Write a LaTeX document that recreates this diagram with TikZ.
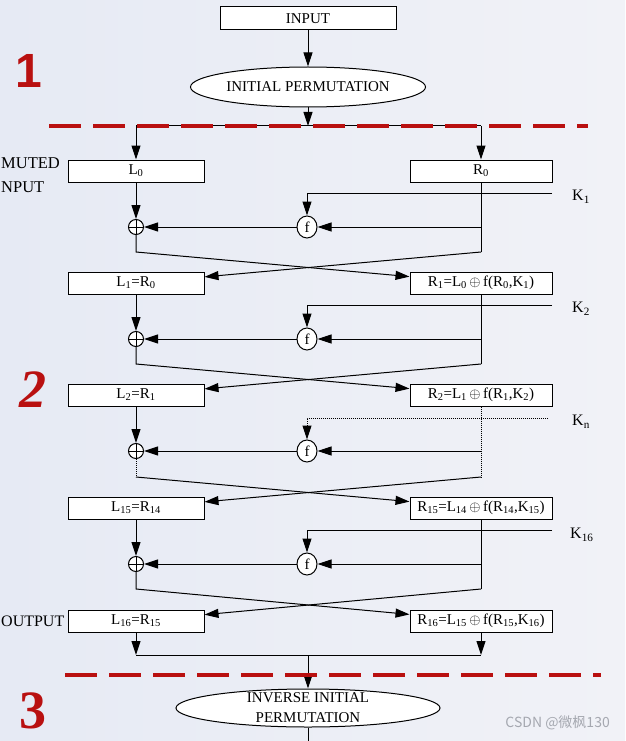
\documentclass[tikz,border=0pt]{standalone}
\usepackage{fontspec}
\setmainfont{Liberation Serif}
\newfontfamily\cjkfont{Noto Sans CJK SC}
\newfontfamily\numfont{Liberation Sans}
\usepackage{tikz}
\usetikzlibrary{positioning, arrows.meta, shapes.geometric}
\definecolor{bgblue}{RGB}{230,234,244}
\definecolor{bglight}{RGB}{241,242,247}
\definecolor{stagered}{RGB}{185,16,16}
\definecolor{markgray}{RGB}{165,168,176}

\begin{document}
\begin{tikzpicture}[x=1pt, y=-1pt,
  box/.style={draw, line width=1pt, fill=white, minimum height=22pt, inner sep=0pt, font=\fontsize{15}{15}\selectfont},
  lbox/.style={box, minimum width=136pt},
  rbox/.style={box, minimum width=142pt},
  perm/.style={draw, ellipse, line width=1pt, fill=white, inner sep=0pt, font=\fontsize{15}{20}\selectfont},
  xorc/.style={draw, circle, line width=1pt, fill=white, minimum size=15pt, inner sep=0pt,
    path picture={\draw[line width=0.8pt] (path picture bounding box.north) -- (path picture bounding box.south)
      (path picture bounding box.west) -- (path picture bounding box.east);}},
  fc/.style={draw, ellipse, line width=1pt, fill=white, minimum width=20pt, minimum height=22pt, inner sep=0pt, font=\fontsize{15}{15}\selectfont},
  arr/.style={-{Triangle[length=14pt, width=9pt]}, line width=1pt},
  ln/.style={line width=1pt},
  dln/.style={line width=1pt, densely dotted},
  cut/.style={stagered, line width=4pt, dash pattern=on 32pt off 12pt},
  key/.style={anchor=west, inner sep=0pt, font=\fontsize{16}{16}\selectfont},
  side/.style={anchor=west, align=left, inner sep=0pt, font=\fontsize{16.5}{24}\selectfont}]

  % background and page size
  \shade[left color=bgblue, right color=bglight] (0,0) rectangle (625,741);
  \useasboundingbox (0,0) rectangle (625,741);
  \clip (0,0) rectangle (625,741);

  % stage numbers
  \node[text=stagered, font=\numfont\bfseries\fontsize{48}{48}\selectfont] (stage1) at (29,71) {1};
  \node[text=stagered, font=\bfseries\itshape\fontsize{54}{54}\selectfont] (stage2) at (33,390) {2};
  \node[text=stagered, font=\bfseries\fontsize{54}{54}\selectfont] (stage3) at (33,711) {3};

  % input and initial permutation
  \node[box, minimum width=176pt, minimum height=23pt] (input) at (308,18.5) {INPUT};
  \node[perm, minimum width=235pt, minimum height=40pt] (ip) at (308,87) {INITIAL PERMUTATION};
  \coordinate (split) at (308,126);
  \draw[arr] (input) -- (ip);
  \draw[arr] (ip) -- (split);

  % round 1
  \node[lbox] (l0) at (136,171) {L\textsubscript{0}};
  \node[rbox] (r0) at (481,171) {R\textsubscript{0}};
  \node[side] (permin) at (1,175) {MUTED\\NPUT};
  \draw[ln] (l0.north |- split) -- (r0.north |- split);
  \draw[arr] (l0.north |- split) -- (l0);
  \draw[arr] (r0.north |- split) -- (r0);
  \node[xorc] (x1) at (136,227) {};
  \node[fc] (f1) at (307,227) {f};
  \coordinate (k1) at (552,193);
  \node[key] (k1lbl) at (572,197) {K\textsubscript{1}};
  \coordinate (c1l) at (136,252);
  \coordinate (c1r) at (481,252);
  \draw[arr] (k1) -| (f1);
  \draw[arr] (l0) -- (x1);
  \draw[ln] (r0) -- (c1r);
  \draw[arr] (r0.south |- f1) -- (f1);
  \draw[arr] (f1) -- (x1);

  % round 2
  \node[lbox] (l1) at (136,283) {L\textsubscript{1}=R\textsubscript{0}};
  \node[rbox] (r1) at (481,283) {R\textsubscript{1}=L\textsubscript{0}\,$\oplus$\,f(R\textsubscript{0},K\textsubscript{1})};
  \draw[arr] (x1) -- (c1l) -- (r1);
  \draw[arr] (c1r) -- (l1);
  \node[xorc] (x2) at (136,339) {};
  \node[fc] (f2) at (307,339) {f};
  \coordinate (k2) at (552,305);
  \node[key] (k2lbl) at (572,309) {K\textsubscript{2}};
  \coordinate (c2l) at (136,364);
  \coordinate (c2r) at (481,364);
  \draw[arr] (k2) -| (f2);
  \draw[arr] (l1) -- (x2);
  \draw[ln] (r1) -- (c2r);
  \draw[arr] (r1.south |- f2) -- (f2);
  \draw[arr] (f2) -- (x2);

  % round n (dotted)
  \node[lbox] (l2) at (136,395) {L\textsubscript{2}=R\textsubscript{1}};
  \node[rbox] (r2) at (481,395) {R\textsubscript{2}=L\textsubscript{1}\,$\oplus$\,f(R\textsubscript{1},K\textsubscript{2})};
  \draw[arr] (x2) -- (c2l) -- (r2);
  \draw[arr] (c2r) -- (l2);
  \node[xorc] (x3) at (136,451) {};
  \node[fc] (f3) at (307,451) {f};
  \coordinate (kn) at (548,418);
  \node[key] (knlbl) at (572,422) {K\textsubscript{n}};
  \coordinate (c3l) at (136,477);
  \coordinate (c3r) at (481,477);
  \draw[dln, -{Triangle[length=14pt, width=9pt]}] (kn) -| (f3);
  \draw[arr] (l2) -- (x3);
  \draw[dln] (r2) -- (c3r);
  \draw[dln] (x3) -- (c3l);
  \draw[arr] (r2.south |- f3) -- (f3);
  \draw[arr] (f3) -- (x3);

  % round 16
  \node[lbox] (l15) at (136,508) {L\textsubscript{15}=R\textsubscript{14}};
  \node[rbox] (r15) at (481,508) {R\textsubscript{15}=L\textsubscript{14}\,$\oplus$\,f(R\textsubscript{14},K\textsubscript{15})};
  \draw[arr] (c3l) -- (r15);
  \draw[arr] (c3r) -- (l15);
  \node[xorc] (x16) at (136,564) {};
  \node[fc] (f16) at (307,564) {f};
  \coordinate (k16) at (552,530);
  \node[key] (k16lbl) at (570,535) {K\textsubscript{16}};
  \coordinate (c16l) at (136,589);
  \coordinate (c16r) at (481,589);
  \draw[arr] (k16) -| (f16);
  \draw[arr] (l15) -- (x16);
  \draw[ln] (r15) -- (c16r);
  \draw[arr] (r15.south |- f16) -- (f16);
  \draw[arr] (f16) -- (x16);

  % output
  \node[lbox] (l16) at (136,621) {L\textsubscript{16}=R\textsubscript{15}};
  \node[rbox] (r16) at (481,621) {R\textsubscript{16}=L\textsubscript{15}\,$\oplus$\,f(R\textsubscript{15},K\textsubscript{16})};
  \node[side, font=\fontsize{16}{16}\selectfont] (permout) at (1,621) {OUTPUT};
  \draw[arr] (x16) -- (c16l) -- (r16);
  \draw[arr] (c16r) -- (l16);
  \coordinate (join) at (308,655);
  \draw[arr] (l16) -- (l16.south |- join);
  \draw[arr] (r16) -- (r16.south |- join);
  \draw[ln] (l16.south |- join) -- (r16.south |- join);

  % inverse initial permutation
  \node[perm, minimum width=264pt, minimum height=38pt] (iip) at (308,708) {};
  \node[inner sep=0pt, align=center, font=\fontsize{15}{20}\selectfont] (iiptext) at (iip.center) {INVERSE INITIAL\\PERMUTATION};
  \coordinate (outend) at (308,745);
  \draw[arr] (join) -- (iip);
  \draw[ln] (iip) -- (outend);

  % stage borders
  \draw[cut] (49,126) -- (588,126);
  \draw[cut] (65,675) -- (601,675);

  \node[anchor=east, inner sep=0pt, text=markgray, font=\cjkfont\fontsize{14}{14}\selectfont] (mark) at (610,723) {CSDN @微枫130};
\end{tikzpicture}
\end{document}
